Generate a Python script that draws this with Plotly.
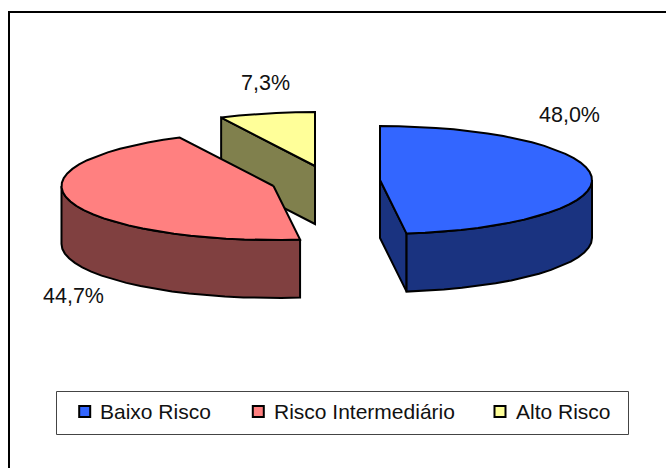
import math
import plotly.graph_objects as go

categories = ["Baixo Risco", "Risco Intermediário", "Alto Risco"]
values = [48.0, 44.7, 7.3]
labels = ["48,0%", "44,7%", "7,3%"]
top_colors = ["#3366FF", "#FF8080", "#FFFF99"]
side_colors = ["#1A3380", "#804040", "#80804D"]

W, H = 666, 468
RX, RY, DEPTH = 212, 54, 58
# exploded slice centres in pixels
centers = [(380, 180), (273.5, 186), (315, 166)]
label_pos = [(569, 115), (73, 296), (265, 83)]
legend_marker_x = [84.7, 258.3, 500]
legend_text_x = [97.5, 271.5, 513.5]
legend_y = 411.5


def pt(c, ang, dy=0):
    a = math.radians(ang)
    return c[0] + RX * math.sin(a), c[1] - RY * math.cos(a) + dy


def arc(c, a0, a1, dy=0):
    n = max(2, int(abs(a1 - a0) / 5) + 1)
    return [pt(c, a0 + (a1 - a0) * i / (n - 1), dy) for i in range(n)]


def poly(points, fill):
    xs = [p[0] for p in points] + [points[0][0]]
    ys = [p[1] for p in points] + [points[0][1]]
    return go.Scatter(x=xs, y=ys, mode="lines", fill="toself", fillcolor=fill,
                      line=dict(color="black", width=2), hoverinfo="skip",
                      showlegend=False)


# slice angles derived from values, clockwise from 12 o'clock
angles = []
s = 0.0
for v in values:
    angles.append((s, s + v * 3.6))
    s += v * 3.6

fig = go.Figure()
for i in [2, 1, 0]:
    c = centers[i]
    a0, a1 = angles[i]
    if i == 0:
        fig.add_trace(poly([c, pt(c, a1), pt(c, a1, DEPTH), (c[0], c[1] + DEPTH)], side_colors[i]))
    if i == 2:
        fig.add_trace(poly([c, pt(c, a0), pt(c, a0, DEPTH), (c[0], c[1] + DEPTH)], side_colors[i]))
    lo, hi = max(a0, 90), min(a1, 270)
    if hi > lo:
        top = arc(c, lo, hi)
        bot = arc(c, hi, lo, DEPTH)
        fig.add_trace(poly(top + bot, side_colors[i]))
    fig.add_trace(poly([c] + arc(c, a0, a1), top_colors[i]))

for txt, (x, y) in zip(labels, label_pos):
    fig.add_annotation(x=x, y=y, text=txt, showarrow=False,
                       font=dict(family="Liberation Sans", size=21.5, color="#111111"))

# chart frame and legend box
fig.add_shape(type="rect", x0=9, y0=12, x1=668, y1=470, line=dict(color="black", width=2))
fig.add_shape(type="rect", x0=56.5, y0=391.5, x1=628.5, y1=434.5, line=dict(color="#444444", width=1),
              fillcolor="white", layer="below")

for name, col, mx, tx in zip(categories, top_colors, legend_marker_x, legend_text_x):
    fig.add_trace(go.Scatter(x=[mx], y=[legend_y], mode="markers", name=name, showlegend=False,
                             marker=dict(symbol="square", size=11, color=col,
                                         line=dict(color="black", width=2))))
    fig.add_annotation(x=tx, y=legend_y, text=name, showarrow=False, xanchor="left",
                       font=dict(family="Liberation Sans", size=21, color="#111111"))

fig.update_layout(
    width=W, height=H, margin=dict(l=0, r=0, t=0, b=0), autosize=False,
    paper_bgcolor="white", plot_bgcolor="white",
    xaxis=dict(range=[0, W], visible=False, fixedrange=True),
    yaxis=dict(range=[H, 0], visible=False, fixedrange=True),
    showlegend=False,
)
fig.write_html("out.html", config={"displayModeBar": False},
               post_script="document.body.style.margin='0';document.documentElement.style.overflow='hidden';")
